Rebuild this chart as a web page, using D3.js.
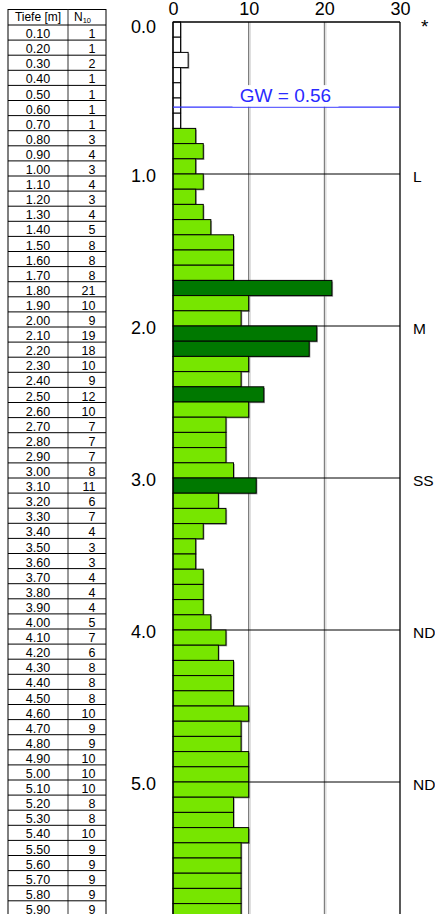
<!DOCTYPE html>
<html>
<head>
<meta charset="utf-8">
<script src="https://cdn.jsdelivr.net/npm/d3@7"></script>
<style>
  html, body { margin: 0; padding: 0; background: #fff; }
  svg { display: block; font-family: "Liberation Sans", Arial, sans-serif; }
</style>
</head>
<body>
<svg id="chart" width="435" height="914"></svg>
<script>
// Dynamic probing log: blow count N10 per 10 cm of penetration
const depths = [0.10,0.20,0.30,0.40,0.50,0.60,0.70,0.80,0.90,1.00,
  1.10,1.20,1.30,1.40,1.50,1.60,1.70,1.80,1.90,2.00,
  2.10,2.20,2.30,2.40,2.50,2.60,2.70,2.80,2.90,3.00,
  3.10,3.20,3.30,3.40,3.50,3.60,3.70,3.80,3.90,4.00,
  4.10,4.20,4.30,4.40,4.50,4.60,4.70,4.80,4.90,5.00,
  5.10,5.20,5.30,5.40,5.50,5.60,5.70,5.80,5.90];
const n10 = [1,1,2,1,1,1,1,3,4,3,
  4,3,4,5,8,8,8,21,10,9,
  19,18,10,9,12,10,7,7,7,8,
  11,6,7,4,3,3,4,4,4,5,
  7,6,8,8,8,10,9,9,10,10,
  10,8,8,10,9,9,9,9,9];
const xTicks = [0, 10, 20, 30];
const depthTicks = [0, 1, 2, 3, 4, 5];
const layerDepths = [1, 2, 3, 4, 5];
const layerLabels = ["L", "M", "SS", "ND", "ND"];
const groundwater = 0.56;
const step = 0.1;

const svg = d3.select("#chart");
const W = 435, H = 914;

// Scales
const x = d3.scaleLinear().domain([0, 30]).range([173, 400]);
const y = d3.scaleLinear().domain([0, 6]).range([22, 22 + 6 * 152]);

function barFill(v) {
  if (v <= 2) return "#ffffff";
  if (v <= 10) return "#77e600";
  return "#007800";
}

// ---------- Table on the left ----------
const tbl = svg.append("g").attr("class", "table");
const tL = 8, tM = 68, tR = 106, tTop = 9.5, tHead = 25, rowH = 15.1;
const rowY = i => tHead + rowH * i;

tbl.append("rect").attr("x", tL).attr("y", tTop).attr("width", tR - tL).attr("height", H)
  .attr("fill", "#fff").attr("stroke", "#000").attr("stroke-width", 1);
tbl.append("line").attr("x1", tM).attr("x2", tM).attr("y1", tTop).attr("y2", H)
  .attr("stroke", "#333").attr("stroke-width", 1);
tbl.append("line").attr("x1", tL).attr("x2", tR).attr("y1", tHead).attr("y2", tHead)
  .attr("stroke", "#000").attr("stroke-width", 1);

tbl.append("text").attr("x", (tL + tM) / 2).attr("y", tHead - 4)
  .attr("text-anchor", "middle").attr("font-size", 12).text("Tiefe [m]");
const nh = tbl.append("text").attr("x", 74).attr("y", tHead - 4).attr("font-size", 12);
nh.append("tspan").text("N");
nh.append("tspan").attr("font-size", 7.5).attr("dy", 2).text("10");

const rows = tbl.selectAll("g.row").data(depths.map((d, i) => ({ d, v: n10[i], i })))
  .join("g").attr("class", "row");
rows.append("line")
  .attr("x1", tL).attr("x2", tR)
  .attr("y1", r => rowY(r.i + 1)).attr("y2", r => rowY(r.i + 1))
  .attr("stroke", "#000").attr("stroke-width", 1);
rows.append("text")
  .attr("x", (tL + tM) / 2).attr("y", r => rowY(r.i + 1) - 2)
  .attr("text-anchor", "middle").attr("font-size", 12.5)
  .text(r => r.d.toFixed(2));
rows.append("text")
  .attr("x", 95.5).attr("y", r => rowY(r.i + 1) - 2)
  .attr("text-anchor", "end").attr("font-size", 12.5)
  .text(r => r.v);

// ---------- Plot ----------
const plot = svg.append("g").attr("class", "plot");

// vertical grid lines with a faint shadow
xTicks.filter(t => t > 0 && t < 30).forEach(t => {
  plot.append("line").attr("x1", x(t) + 1.5).attr("x2", x(t) + 1.5).attr("y1", y(0)).attr("y2", H)
    .attr("stroke", "#dcdcdc").attr("stroke-width", 1.5);
  plot.append("line").attr("x1", x(t)).attr("x2", x(t)).attr("y1", y(0)).attr("y2", H)
    .attr("stroke", "#666").attr("stroke-width", 1);
});

// layer boundary lines
plot.selectAll("line.layer").data(layerDepths).join("line").attr("class", "layer")
  .attr("x1", x(0)).attr("x2", x(30))
  .attr("y1", d => y(d)).attr("y2", d => y(d))
  .attr("stroke", "#000").attr("stroke-width", 1);

// bar shadows
plot.selectAll("rect.shadow").data(depths.map((d, i) => ({ d, v: n10[i] })))
  .join("rect").attr("class", "shadow")
  .attr("x", x(0) + 1.2)
  .attr("y", r => y(r.d - step) + 1.2)
  .attr("width", r => x(r.v) - x(0))
  .attr("height", r => y(r.d) - y(r.d - step))
  .attr("fill", "#555").attr("opacity", 0.55);

// bars
plot.selectAll("rect.bar").data(depths.map((d, i) => ({ d, v: n10[i] })))
  .join("rect").attr("class", "bar")
  .attr("x", x(0))
  .attr("y", r => y(r.d - step))
  .attr("width", r => x(r.v) - x(0))
  .attr("height", r => y(r.d) - y(r.d - step))
  .attr("fill", r => barFill(r.v))
  .attr("stroke", "#000").attr("stroke-width", 1);

// frame: left, top, right
plot.append("line").attr("x1", x(0)).attr("x2", x(0)).attr("y1", y(0)).attr("y2", H)
  .attr("stroke", "#000").attr("stroke-width", 1.3);
plot.append("line").attr("x1", x(0)).attr("x2", x(30)).attr("y1", y(0)).attr("y2", y(0))
  .attr("stroke", "#000").attr("stroke-width", 1.3);
plot.append("line").attr("x1", x(30)).attr("x2", x(30)).attr("y1", y(0)).attr("y2", H)
  .attr("stroke", "#000").attr("stroke-width", 1.3);

// groundwater level
const gwY = y(groundwater);
plot.append("line").attr("x1", x(0)).attr("x2", x(30)).attr("y1", gwY).attr("y2", gwY)
  .attr("stroke", "#3333ff").attr("stroke-width", 1.2);
const gwX = (x(0) + x(30)) / 2 - 1;
plot.append("rect").attr("x", gwX - 53).attr("y", gwY - 22).attr("width", 106).attr("height", 21.5)
  .attr("fill", "#fff");
plot.append("text").attr("x", gwX).attr("y", gwY - 5.5)
  .attr("text-anchor", "middle").attr("font-size", 19).attr("fill", "#2a2aff")
  .text("GW = " + groundwater.toFixed(2));

// top axis labels
const topAxis = d3.axisTop(x).tickValues(xTicks).tickSize(0).tickPadding(0);
svg.append("g").attr("transform", `translate(0, 15)`).call(topAxis)
  .call(g => g.select(".domain").remove())
  .call(g => g.selectAll("text").attr("font-size", 18).attr("fill", "#000")
    .attr("font-family", "Liberation Sans, Arial, sans-serif").attr("dy", 0));

// depth labels
const leftAxis = d3.axisLeft(y).tickValues(depthTicks).tickSize(0).tickPadding(0)
  .tickFormat(d3.format(".1f"));
svg.append("g").attr("transform", `translate(156, 0)`).call(leftAxis)
  .call(g => g.select(".domain").remove())
  .call(g => g.selectAll(".tick").attr("transform", d => `translate(0, ${Math.max(y(d) + 2, 27)})`))
  .call(g => g.selectAll("text").attr("font-size", 18).attr("fill", "#000")
    .attr("font-family", "Liberation Sans, Arial, sans-serif"));

// layer labels on the right
svg.selectAll("text.layerLabel").data(layerDepths).join("text").attr("class", "layerLabel")
  .attr("x", 413).attr("y", d => y(d) + 7.5)
  .attr("font-size", 15.5).text((d, i) => layerLabels[i]);

svg.append("text").attr("x", 421).attr("y", 33).attr("font-size", 19).text("*");
</script>
</body>
</html>
